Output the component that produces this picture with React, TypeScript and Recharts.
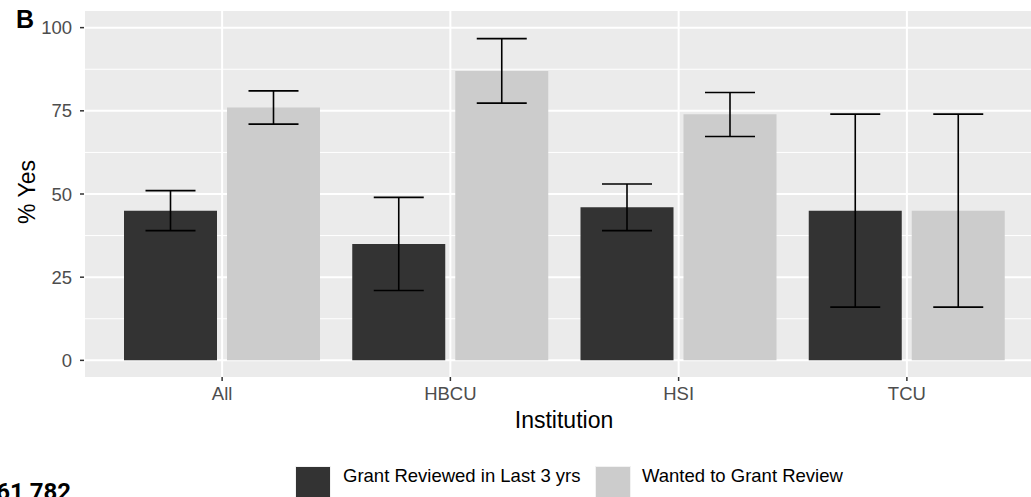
import { BarChart, Bar, XAxis, YAxis, CartesianGrid, ErrorBar, Label } from 'recharts';

const categories = ['All', 'HBCU', 'HSI', 'TCU'];

// % answering yes, with lower / upper interval bounds
const reviewed = [45, 35, 46, 45];
const reviewedLow = [39, 21, 39, 16];
const reviewedHigh = [51, 49, 53, 74];

const wanted = [76, 87, 74, 45];
const wantedLow = [71, 77.3, 67.3, 16];
const wantedHigh = [81, 96.7, 80.5, 74];

const yTicks = [0, 25, 50, 75, 100];
const minorTicks = [12.5, 37.5, 62.5, 87.5];

const seriesNames = ['Grant Reviewed in Last 3 yrs', 'Wanted to Grant Review'];
const DARK = '#333333';
const LIGHT = '#CCCCCC';

const data = categories.map((name, i) => ({
  name,
  reviewed: reviewed[i],
  reviewedErr: [reviewed[i] - reviewedLow[i], reviewedHigh[i] - reviewed[i]],
  wanted: wanted[i],
  wantedErr: [wanted[i] - wantedLow[i], wantedHigh[i] - wanted[i]],
}));

const tickStyle = { fill: '#4D4D4D', fontSize: 18.5 };
const tickLine = { stroke: '#333333', strokeWidth: 1.5 };

export default function App() {
  return (
    <div
      style={{
        position: 'fixed',
        left: 0,
        top: 0,
        width: 1031,
        height: 497,
        overflow: 'hidden',
        background: '#fff',
        fontFamily: '"Liberation Sans", Arial, sans-serif',
      }}
    >
      <BarChart
        width={1060}
        height={440}
        data={data}
        margin={{ top: 11, right: 16, bottom: 0, left: 0 }}
        barSize={93}
        barGap={10}
      >
        {/* panel background + minor lines */}
        <CartesianGrid fill="#EBEBEB" stroke="#FFFFFF" strokeWidth={1} vertical={false} horizontalValues={minorTicks} />
        {/* major lines */}
        <CartesianGrid stroke="#FFFFFF" strokeWidth={2} horizontalValues={yTicks} />
        <XAxis
          dataKey="name"
          padding={{ left: 24, right: 23 }}
          axisLine={false}
          tickLine={tickLine}
          tickSize={4}
          tickMargin={6}
          tick={tickStyle}
          height={63}
        >
          <Label value="Institution" position="insideBottom" offset={12} fill="#000" fontSize={23} />
        </XAxis>
        <YAxis
          type="number"
          domain={[-5, 105]}
          ticks={yTicks}
          allowDataOverflow
          interval={0}
          width={84}
          axisLine={false}
          tickLine={tickLine}
          tickSize={4}
          tickMargin={8}
          tick={tickStyle}
        />
        <Bar dataKey="reviewed" fill={DARK} isAnimationActive={false}>
          <ErrorBar dataKey="reviewedErr" width={25} stroke="#000" strokeWidth={1.6} direction="y" />
        </Bar>
        <Bar dataKey="wanted" fill={LIGHT} isAnimationActive={false}>
          <ErrorBar dataKey="wantedErr" width={25} stroke="#000" strokeWidth={1.6} direction="y" />
        </Bar>
      </BarChart>

      <svg
        width={1031}
        height={497}
        style={{ position: 'absolute', left: 0, top: 0, pointerEvents: 'none' }}
      >
        <text x={16} y={28} fontSize={25} fontWeight="bold" fill="#000">B</text>
        <text transform="translate(27,192) rotate(-90)" textAnchor="middle" dy="0.35em" fontSize={23} fill="#000">
          % Yes
        </text>

        {/* legend */}
        <rect x={295} y={466} width={36} height={36} fill="#F2F2F2" />
        <rect x={296} y={467} width={34} height={34} fill={DARK} />
        <text x={343} y={482} fontSize={18.5} fill="#000">{seriesNames[0]}</text>
        <rect x={595} y={466} width={36} height={36} fill="#F2F2F2" />
        <rect x={596} y={467} width={34} height={34} fill={LIGHT} />
        <text x={642} y={482} fontSize={18.5} fill="#000">{seriesNames[1]}</text>

        <text x={71} y={500} textAnchor="end" fontSize={24} fontWeight="bold" fontFamily="Roboto" fill="#000">
          61,782
        </text>
      </svg>
    </div>
  );
}
